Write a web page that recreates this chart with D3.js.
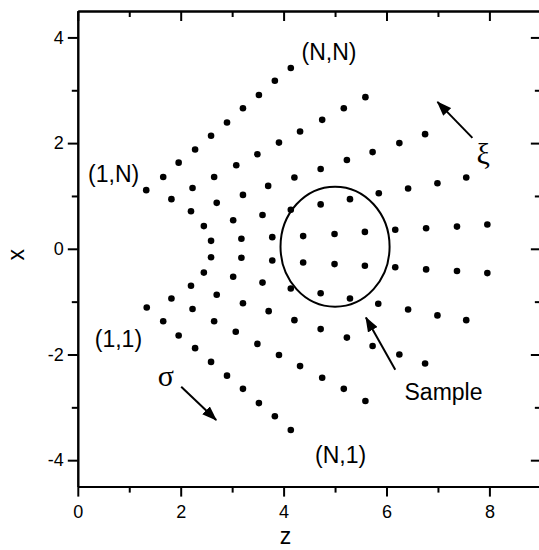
<!DOCTYPE html>
<html>
<head>
<meta charset="utf-8">
<script src="https://cdn.jsdelivr.net/npm/d3@7"></script>
<style>
  html, body { margin: 0; padding: 0; background: #fff; }
  svg { display: block; }
  .axis text { font-family: "Liberation Sans", Arial, sans-serif; font-size: 18px; fill: #000; }
  .axis path, .axis line { stroke: #000; stroke-width: 2px; }
  .label { font-family: "Liberation Sans", Arial, sans-serif; font-size: 23px; fill: #000; }
  .greek { font-family: "Liberation Serif", "DejaVu Serif", serif; font-size: 30px; fill: #000; }
</style>
</head>
<body>
<div id="chart"></div>
<script>
// grid points (z, x), one array per ray j = 1..N, index i = 1..N along the ray
var rayJ1  = [[1.34,-1.11],[1.66,-1.37],[1.96,-1.64],[2.28,-1.88],[2.59,-2.14],[2.90,-2.40],[3.21,-2.65],[3.52,-2.92],[3.83,-3.17],[4.14,-3.43]];
var rayJ2  = [[1.82,-0.94],[2.23,-1.14],[2.65,-1.37],[3.07,-1.57],[3.49,-1.80],[3.91,-2.01],[4.32,-2.22],[4.75,-2.44],[5.17,-2.65],[5.59,-2.88]];
var rayJ3  = [[2.20,-0.70],[2.70,-0.87],[3.21,-1.03],[3.71,-1.18],[4.21,-1.35],[4.72,-1.52],[5.23,-1.68],[5.73,-1.84],[6.25,-2.00],[6.75,-2.17]];
var rayJ4  = [[2.45,-0.45],[3.02,-0.53],[3.59,-0.64],[4.14,-0.75],[4.72,-0.84],[5.29,-0.94],[5.84,-1.04],[6.42,-1.15],[6.99,-1.26],[7.55,-1.35]];
var rayJ5  = [[2.59,-0.16],[3.18,-0.17],[3.78,-0.22],[4.38,-0.26],[4.99,-0.29],[5.58,-0.32],[6.17,-0.35],[6.77,-0.39],[7.37,-0.42],[7.96,-0.46]];
var rayJ6  = [[2.59,0.15],[3.18,0.19],[3.78,0.22],[4.38,0.24],[4.99,0.28],[5.58,0.32],[6.17,0.36],[6.77,0.39],[7.37,0.42],[7.96,0.46]];
var rayJ7  = [[2.45,0.43],[3.02,0.54],[3.59,0.64],[4.14,0.74],[4.72,0.84],[5.29,0.94],[5.85,1.05],[6.42,1.14],[6.99,1.24],[7.55,1.35]];
var rayJ8  = [[2.20,0.71],[2.70,0.87],[3.21,1.02],[3.70,1.19],[4.21,1.35],[4.72,1.51],[5.23,1.68],[5.73,1.83],[6.25,2.00],[6.75,2.17]];
var rayJ9  = [[1.82,0.94],[2.23,1.15],[2.65,1.36],[3.08,1.58],[3.49,1.79],[3.91,2.01],[4.32,2.22],[4.75,2.44],[5.17,2.66],[5.59,2.87]];
var rayJ10 = [[1.33,1.11],[1.66,1.36],[1.96,1.63],[2.28,1.88],[2.59,2.14],[2.90,2.39],[3.21,2.66],[3.52,2.91],[3.83,3.18],[4.14,3.42]];

// sample outline: centre (z, x) and half-widths
var sampleCentre = [5.0, 0.04];
var sampleHalf = [1.06, 1.135];

// arrows: [from, to] in (z, x)
var arrows = [
    [[7.67, 2.10], [6.99, 2.78]],   // xi
    [[2.01, -2.61], [2.69, -3.24]], // sigma
    [[6.17, -2.29], [5.60, -1.30]]  // sample
];

// text annotations: z, x, text
var cornerLabels = [
    [4.35, 3.57, "(N,N)"],
    [0.20, 1.27, "(1,N)"],
    [0.33, -1.86, "(1,1)"],
    [4.61, -4.05, "(N,1)"],
    [6.35, -2.86, "Sample"]
];
var greekLabels = [
    [7.88, 1.81, "\u03BE"],
    [1.71, -2.40, "\u03C3"]
];

var zMajor = [0, 2, 4, 6, 8];
var zMinor = [1, 3, 5, 7, 9];
var xMajor = [-4, -2, 0, 2, 4];
var xMinor = [-3, -1, 1, 3];

var width = 539, height = 550;

var svg = d3.select("#chart").append("svg")
    .attr("width", width)
    .attr("height", height);

var x = d3.scaleLinear().domain([0, 9]).range([77.8, 540.85]);
var y = d3.scaleLinear().domain([-4.5, 4.5]).range([486.6, 11]);

var defs = svg.append("defs");
defs.append("marker")
    .attr("id", "head")
    .attr("viewBox", "0 0 15 11")
    .attr("refX", 14)
    .attr("refY", 5.5)
    .attr("markerUnits", "userSpaceOnUse")
    .attr("markerWidth", 15)
    .attr("markerHeight", 11)
    .attr("orient", "auto")
    .append("path")
    .attr("d", "M0,0 L15,5.5 L0,11 Z")
    .attr("fill", "#000");

// axes
function addAxis(axis, tx, ty) {
    svg.append("g")
        .attr("class", "axis")
        .attr("transform", "translate(" + tx + "," + ty + ")")
        .call(axis);
}

var yBottom = y(-4.5), yTop = y(4.5), xLeft = x(0), xRight = x(9);

addAxis(d3.axisBottom(x).tickValues(zMajor).tickSize(10).tickSizeOuter(0).tickPadding(9), 0, yBottom);
addAxis(d3.axisBottom(x).tickValues(zMinor).tickSize(6).tickSizeOuter(0).tickFormat(""), 0, yBottom);
addAxis(d3.axisBottom(x).tickValues(zMajor).tickSize(10).tickSizeOuter(0).tickFormat(""), 0, yTop);
addAxis(d3.axisBottom(x).tickValues(zMinor).tickSize(6).tickSizeOuter(0).tickFormat(""), 0, yTop);

addAxis(d3.axisLeft(y).tickValues(xMajor).tickSize(10).tickSizeOuter(0).tickPadding(4), xLeft, 0);
addAxis(d3.axisLeft(y).tickValues(xMinor).tickSize(6).tickSizeOuter(0).tickFormat(""), xLeft, 0);
addAxis(d3.axisLeft(y).tickValues(xMajor).tickSize(10).tickSizeOuter(0).tickFormat(""), xRight, 0);
addAxis(d3.axisLeft(y).tickValues(xMinor).tickSize(6).tickSizeOuter(0).tickFormat(""), xRight, 0);

svg.selectAll(".axis text").filter(function() { return this.textContent !== ""; })
    .text(function(d) { return d < 0 ? "-" + Math.abs(d) : d; });

svg.append("text")
    .attr("class", "label")
    .attr("x", (xLeft + 489) / 2 + 2)
    .attr("y", 544)
    .attr("text-anchor", "middle")
    .text("z");

svg.append("text")
    .attr("class", "label")
    .attr("transform", "translate(24," + (y(0) + 6) + ") rotate(-90)")
    .attr("text-anchor", "middle")
    .text("x");

// grid points
var rays = [rayJ1, rayJ2, rayJ3, rayJ4, rayJ5, rayJ6, rayJ7, rayJ8, rayJ9, rayJ10];
var points = d3.merge(rays);

svg.append("g").selectAll("circle")
    .data(points).enter()
    .append("circle")
    .attr("cx", function(d) { return x(d[0]); })
    .attr("cy", function(d) { return y(d[1]); })
    .attr("r", 3.3)
    .attr("fill", "#000");

// sample ellipse
svg.append("ellipse")
    .attr("cx", x(sampleCentre[0]))
    .attr("cy", y(sampleCentre[1]))
    .attr("rx", x(sampleCentre[0] + sampleHalf[0]) - x(sampleCentre[0]))
    .attr("ry", y(sampleCentre[1]) - y(sampleCentre[1] + sampleHalf[1]))
    .attr("fill", "none")
    .attr("stroke", "#000")
    .attr("stroke-width", 2);

// arrows
svg.append("g").selectAll("line")
    .data(arrows).enter()
    .append("line")
    .attr("x1", function(d) { return x(d[0][0]); })
    .attr("y1", function(d) { return y(d[0][1]); })
    .attr("x2", function(d) { return x(d[1][0]); })
    .attr("y2", function(d) { return y(d[1][1]); })
    .attr("stroke", "#000")
    .attr("stroke-width", 2)
    .attr("marker-end", "url(#head)");

// labels
svg.append("g").selectAll("text")
    .data(cornerLabels).enter()
    .append("text")
    .attr("class", "label")
    .attr("x", function(d) { return x(d[0]); })
    .attr("y", function(d) { return y(d[1]); })
    .text(function(d) { return d[2]; });

svg.append("g").selectAll("text")
    .data(greekLabels).enter()
    .append("text")
    .attr("class", "greek")
    .attr("x", function(d) { return x(d[0]); })
    .attr("y", function(d) { return y(d[1]); })
    .attr("text-anchor", "middle")
    .attr("dominant-baseline", "central")
    .text(function(d) { return d[2]; });
</script>
</body>
</html>
